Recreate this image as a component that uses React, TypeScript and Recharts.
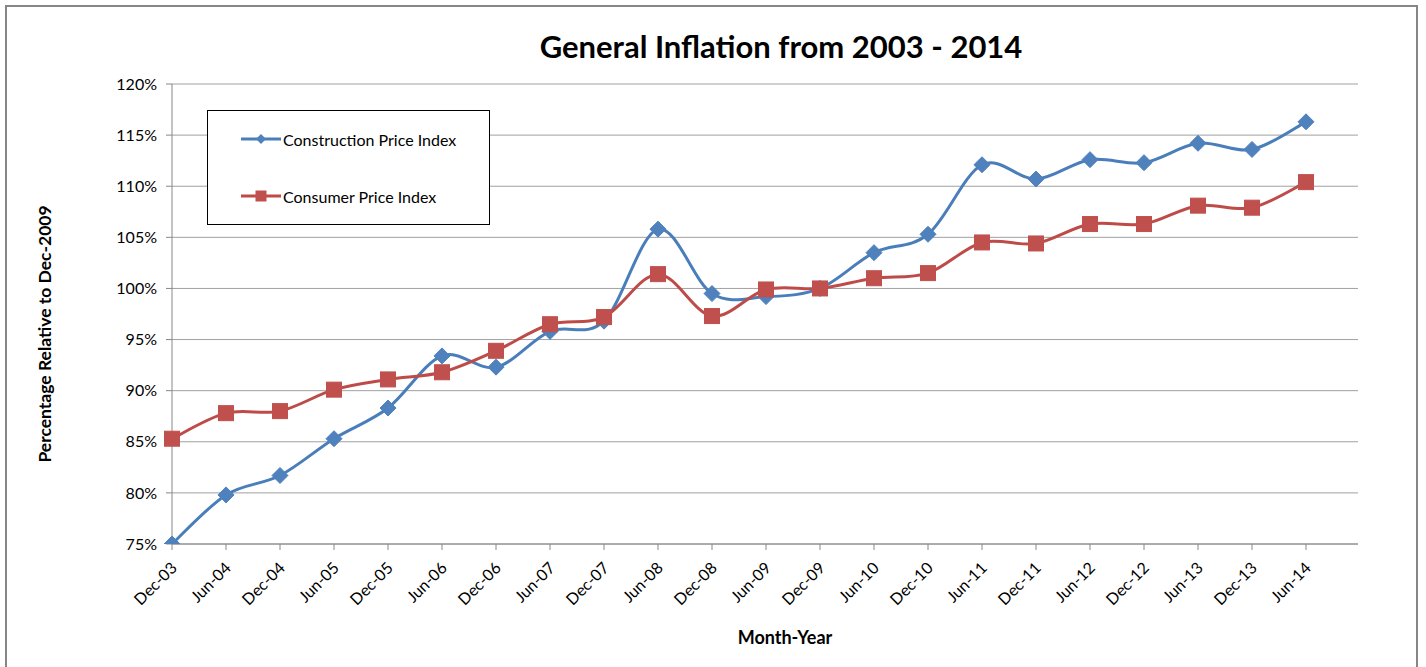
import React from 'react';
import { LineChart, Line, XAxis, YAxis, CartesianGrid, Legend, Customized } from 'recharts';

const categories = ['Dec-03', 'Jun-04', 'Dec-04', 'Jun-05', 'Dec-05', 'Jun-06', 'Dec-06', 'Jun-07', 'Dec-07', 'Jun-08', 'Dec-08', 'Jun-09', 'Dec-09', 'Jun-10', 'Dec-10', 'Jun-11', 'Dec-11', 'Jun-12', 'Dec-12', 'Jun-13', 'Dec-13', 'Jun-14'];
const constructionIndex = [75.0, 79.8, 81.7, 85.3, 88.3, 93.4, 92.3, 95.8, 96.8, 105.8, 99.5, 99.2, 100.0, 103.5, 105.3, 112.1, 110.7, 112.6, 112.3, 114.2, 113.6, 116.3];
const consumerIndex = [85.3, 87.8, 88.0, 90.1, 91.1, 91.8, 93.9, 96.5, 97.2, 101.4, 97.3, 99.9, 100.0, 101.0, 101.5, 104.5, 104.4, 106.3, 106.3, 108.1, 107.9, 110.4];
const yTicks = [75, 80, 85, 90, 95, 100, 105, 110, 115, 120];

const seriesNames = ['Construction Price Index', 'Consumer Price Index'];
const BLUE_LINE = '#4A7EBB';
const BLUE_MARK = '#4F81BD';
const RED_LINE = '#BE4B48';
const RED_MARK = '#C0504D';
const FONT = 'Lato, "Open Sans", sans-serif';

const data = categories.map((c, i) => ({
  month: c,
  construction: constructionIndex[i],
  consumer: consumerIndex[i],
}));

// Catmull-Rom style smoothing (like Excel "smoothed line")
function excelSmooth(context: any) {
  let pts: number[][] = [];
  return {
    areaStart() {},
    areaEnd() {},
    lineStart() { pts = []; },
    point(x: number, y: number) { pts.push([+x, +y]); },
    lineEnd() {
      const n = pts.length;
      if (n === 0) return;
      context.moveTo(pts[0][0], pts[0][1]);
      if (n === 1) return;
      for (let i = 0; i < n - 1; i++) {
        const p0 = pts[i - 1] || pts[i];
        const p1 = pts[i];
        const p2 = pts[i + 1];
        const p3 = pts[i + 2] || p2;
        const c1x = p1[0] + (p2[0] - p0[0]) / 6;
        const c1y = p1[1] + (p2[1] - p0[1]) / 6;
        const c2x = p2[0] - (p3[0] - p1[0]) / 6;
        const c2y = p2[1] - (p3[1] - p1[1]) / 6;
        context.bezierCurveTo(c1x, c1y, c2x, c2y, p2[0], p2[1]);
      }
    },
  };
}

const Diamond = (props: any) => {
  const { cx, cy, index } = props;
  if (cx == null || cy == null) return <g key={`d-${index}`} />;
  const r = 8;
  return (
    <polygon
      key={`d-${index}`}
      points={`${cx},${cy - r} ${cx + r},${cy} ${cx},${cy + r} ${cx - r},${cy}`}
      fill={BLUE_MARK}
      stroke={BLUE_MARK}
      strokeWidth={1}
    />
  );
};

const Square = (props: any) => {
  const { cx, cy, index } = props;
  if (cx == null || cy == null) return <g key={`s-${index}`} />;
  const h = 7.5;
  return (
    <rect key={`s-${index}`} x={cx - h} y={cy - h} width={2 * h} height={2 * h} fill={RED_MARK} stroke={RED_MARK} strokeWidth={1} />
  );
};

const XTick = (props: any) => {
  const { x, y, payload } = props;
  return (
    <g transform={`translate(${x + 6},${y + 17})`}>
      <text x={0} y={0} textAnchor="end" transform="rotate(-45)" fontSize={16} fill="#000" fontFamily={FONT}>
        {payload.value}
      </text>
    </g>
  );
};

const LegendBox = () => (
  <div
    style={{
      width: 283,
      height: 115,
      border: '1px solid #000',
      boxSizing: 'border-box',
      background: '#fff',
      position: 'relative',
      fontFamily: FONT,
      fontSize: 16,
      color: '#000',
    }}
  >
    {seriesNames.map((name, i) => (
      <div key={name} style={{ position: 'absolute', left: 32, top: i === 0 ? 18 : 75, height: 20, display: 'flex', alignItems: 'center' }}>
        <svg width={42} height={20} style={{ display: 'block' }}>
          <line x1={1} y1={10} x2={41} y2={10} stroke={i === 0 ? BLUE_LINE : RED_LINE} strokeWidth={3} />
          {i === 0 ? (
            <polygon points="21,5 26,10 21,15 16,10" fill={BLUE_MARK} />
          ) : (
            <rect x={15.5} y={4.5} width={11} height={11} fill={RED_MARK} />
          )}
        </svg>
        <span style={{ marginLeft: 1, whiteSpace: 'nowrap' }}>{name}</span>
      </div>
    ))}
  </div>
);

const Titles = () => (
  <g fontFamily={FONT} fill="#000">
    <text x={781} y={58} textAnchor="middle" fontSize={31} fontWeight="bold">
      General Inflation from 2003 - 2014
    </text>
    <text x={785} y={644} textAnchor="middle" fontSize={18} fontWeight="bold">
      Month-Year
    </text>
    <text x={51} y={334} textAnchor="middle" fontSize={17.5} fontWeight="bold" transform="rotate(-90 51 334)">
      Percentage Relative to Dec-2009
    </text>
  </g>
);

export default function App() {
  return (
    <div style={{ position: 'absolute', left: 0, top: 0, width: 1426, height: 667, background: '#fff', overflow: 'hidden', fontFamily: FONT }}>
      <div
        style={{
          position: 'absolute',
          left: 5,
          top: 5,
          width: 1413,
          height: 662,
          borderLeft: '2px solid #868686',
          borderTop: '2px solid #868686',
          borderRight: '2px solid #868686',
          boxSizing: 'border-box',
        }}
      />
      <div style={{ position: 'absolute', left: 0, top: 0 }}>
        <LineChart width={1426} height={667} data={data} margin={{ top: 84, right: 68, left: 100, bottom: 63 }}>
          <CartesianGrid horizontal={true} vertical={false} stroke="#a0a0a0" strokeWidth={1} />
          <XAxis
            dataKey="month"
            interval={0}
            height={60}
            padding={{ left: 0, right: 52 }}
            axisLine={{ stroke: '#888', strokeWidth: 1 }}
            tickLine={{ stroke: '#888' }}
            tickSize={6}
            tick={<XTick />}
          />
          <YAxis
            width={72}
            domain={[75, 120]}
            ticks={yTicks}
            interval={0}
            allowDataOverflow={true}
            tickFormatter={(v: number) => `${v}%`}
            axisLine={{ stroke: '#888', strokeWidth: 1 }}
            tickLine={{ stroke: '#888' }}
            tickSize={6}
            tickMargin={9}
            tick={{ fontSize: 16, fill: '#000', fontFamily: FONT }}
          />
          <Legend
            layout="vertical"
            align="center"
            verticalAlign="middle"
            content={<LegendBox />}
            wrapperStyle={{ left: 207, top: 110, width: 283, height: 115 }}
          />
          <Line
            name={seriesNames[0]}
            dataKey="construction"
            type={excelSmooth as any}
            stroke={BLUE_LINE}
            strokeWidth={3}
            dot={Diamond}
            activeDot={false}
            isAnimationActive={false}
          />
          <Line
            name={seriesNames[1]}
            dataKey="consumer"
            type={excelSmooth as any}
            stroke={RED_LINE}
            strokeWidth={3}
            dot={Square}
            activeDot={false}
            isAnimationActive={false}
          />
          <Customized component={<Titles />} />
        </LineChart>
      </div>
    </div>
  );
}
